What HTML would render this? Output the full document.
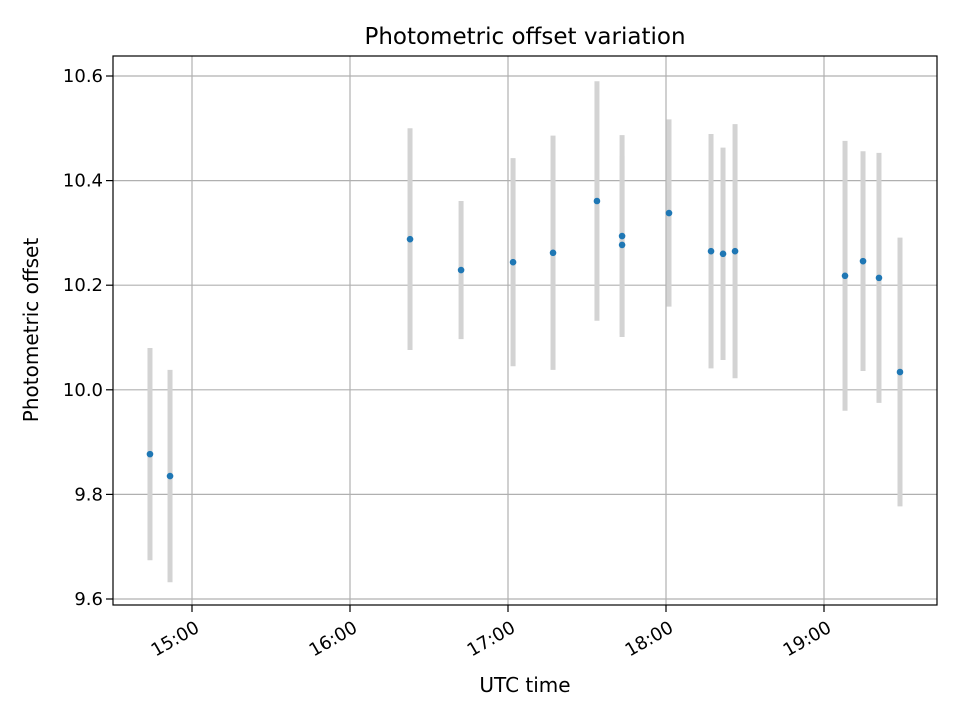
<!DOCTYPE html>
<html><head><meta charset="utf-8"><style>body{margin:0;background:#fff}svg{display:block;font-family:"DejaVu Sans","Liberation Sans",sans-serif}</style></head>
<body>
<svg id="chart" width="960" height="720" xmlns="http://www.w3.org/2000/svg">
<rect width="960" height="720" fill="#fff"/>
<g id="grid"></g>
<g id="bars"></g>
<g id="pts"></g>
<rect x="113" y="56" width="824" height="549" fill="none" stroke="#000" stroke-width="1.2"/>
<g id="ticks"></g>
<text x="525" y="44" font-size="23" text-anchor="middle">Photometric offset variation</text>
<text x="525" y="692" font-size="20" text-anchor="middle">UTC time</text>
<text transform="translate(38,330) rotate(-90)" font-size="20" text-anchor="middle">Photometric offset</text>
</svg>
<script>
const times=[14.734,14.861,16.380,16.703,17.032,17.285,17.563,17.722,17.722,18.019,18.285,18.361,18.437,19.133,19.247,19.348,19.481];
const values=[9.877,9.835,10.288,10.229,10.244,10.262,10.361,10.294,10.277,10.338,10.265,10.260,10.265,10.218,10.246,10.214,10.034];
const errors=[0.203,0.203,0.212,0.132,0.199,0.224,0.229,0.193,0.17,0.179,0.224,0.203,0.243,0.258,0.21,0.239,0.257];
const xTicks=[15,16,17,18,19];
const xTickLabels=["15:00","16:00","17:00","18:00","19:00"];
const yTicks=[9.6,9.8,10.0,10.2,10.4,10.6];
const yTickLabels=["9.6","9.8","10.0","10.2","10.4","10.6"];
const NS="http://www.w3.org/2000/svg";
function X(t){return 192+(t-15)*158;}
function Y(v){return 76+(10.6-v)*523;}
function mk(tag,attrs,parent){const e=document.createElementNS(NS,tag);for(const k in attrs)e.setAttribute(k,attrs[k]);document.getElementById(parent).appendChild(e);return e;}
xTicks.forEach((t,i)=>{
  const g=mk('line',{x1:X(t),x2:X(t),y1:56,y2:605,stroke:'#b0b0b0','stroke-width':1.2},'grid');
  
  
  const tk=mk('line',{x1:X(t),x2:X(t),y1:605,y2:612,stroke:'#000','stroke-width':1.2},'ticks');
  
  
  const tx=mk('text',{x:0,y:15,'font-size':18,'text-anchor':'end',transform:`translate(${X(t)+1},618) rotate(-30)`},'ticks');
  tx.textContent=xTickLabels[i];
  
  
});
yTicks.forEach((v,i)=>{
  const g=mk('line',{x1:113,x2:937,y1:Y(v),y2:Y(v),stroke:'#b0b0b0','stroke-width':1.2},'grid');
  
  
  const tk=mk('line',{x1:106,x2:113,y1:Y(v),y2:Y(v),stroke:'#000','stroke-width':1.2},'ticks');
  
  
  const tx=mk('text',{x:103,y:Y(v)+6,'font-size':18,'text-anchor':'end'},'ticks');
  tx.textContent=yTickLabels[i];
  
  
});
times.forEach((t,i)=>{
  const b=mk('line',{x1:X(t),x2:X(t),y1:Y(values[i]+errors[i]),y2:Y(values[i]-errors[i]),stroke:'#d3d3d3','stroke-width':5},'bars');
  
  
});
times.forEach((t,i)=>{
  const c=mk('circle',{cx:X(t),cy:Y(values[i]),r:3.3,fill:'#1f77b4'},'pts');
  
  
});
</script>
</body></html>
